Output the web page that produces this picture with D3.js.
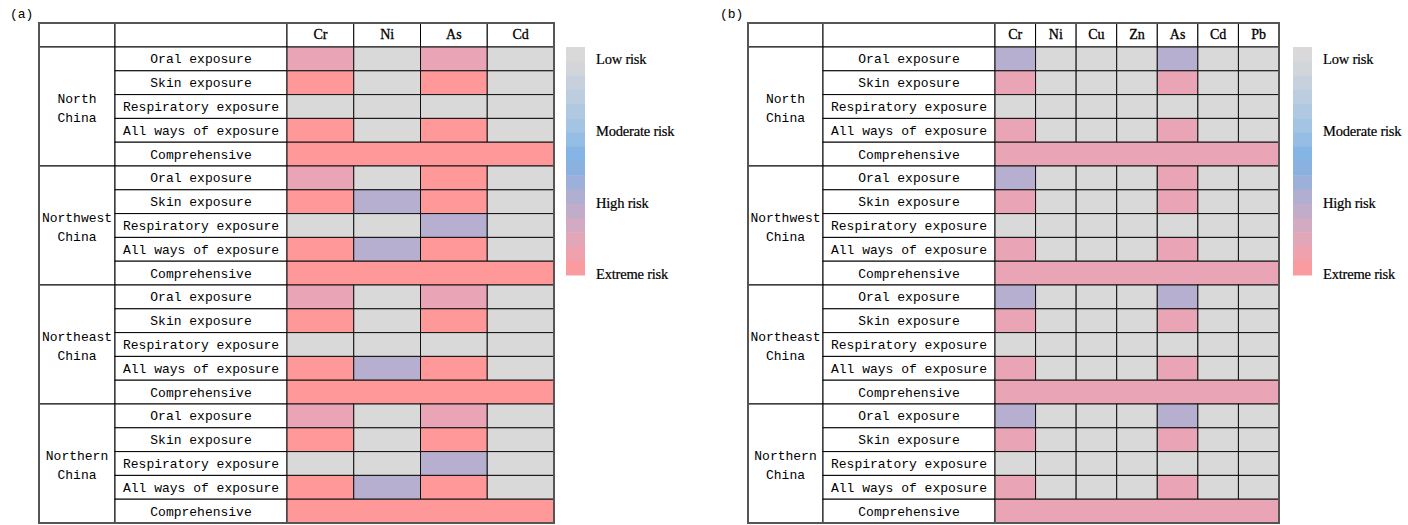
<!DOCTYPE html>
<html>
<head>
<meta charset="utf-8">
<script src="https://cdn.jsdelivr.net/npm/d3@7"></script>
<style>
  html, body { margin: 0; padding: 0; background: #fff; }
  svg { display: block; }
</style>
</head>
<body>
<svg id="chart" width="1408" height="525"></svg>
<script>
// Risk levels: 0 = low, 1 = moderate, 2 = high, 3 = extreme (2.6 sits between high and extreme)
const regions = ["North China", "Northwest China", "Northeast China", "Northern China"];
const pathways = ["Oral exposure", "Skin exposure", "Respiratory exposure", "All ways of exposure"];
const metalsA = ["Cr", "Ni", "As", "Cd"];
const metalsB = ["Cr", "Ni", "Cu", "Zn", "As", "Cd", "Pb"];

// (a) region -> pathway -> metal
const riskA = [
  [[2.6, 0, 2.6, 0], [3, 0, 3, 0], [0, 0, 0, 0], [3, 0, 3, 0]],
  [[2.6, 0, 3, 0], [3, 2, 3, 0], [0, 0, 2, 0], [3, 2, 3, 0]],
  [[2.6, 0, 2.6, 0], [3, 0, 3, 0], [0, 0, 0, 0], [3, 2, 3, 0]],
  [[2.6, 0, 2.6, 0], [3, 0, 3, 0], [0, 0, 2, 0], [3, 2, 3, 0]]
];
const comprehensiveA = [3, 3, 3, 3];

// (b) region -> pathway -> metal
const riskB = [
  [[2, 0, 0, 0, 2, 0, 0], [2.6, 0, 0, 0, 2.6, 0, 0], [0, 0, 0, 0, 0, 0, 0], [2.6, 0, 0, 0, 2.6, 0, 0]],
  [[2, 0, 0, 0, 2.6, 0, 0], [2.6, 0, 0, 0, 2.6, 0, 0], [0, 0, 0, 0, 0, 0, 0], [2.6, 0, 0, 0, 2.6, 0, 0]],
  [[2, 0, 0, 0, 2, 0, 0], [2.6, 0, 0, 0, 2.6, 0, 0], [0, 0, 0, 0, 0, 0, 0], [2.6, 0, 0, 0, 2.6, 0, 0]],
  [[2, 0, 0, 0, 2, 0, 0], [2.6, 0, 0, 0, 2.6, 0, 0], [0, 0, 0, 0, 0, 0, 0], [2.6, 0, 0, 0, 2.6, 0, 0]]
];
const comprehensiveB = [2.6, 2.6, 2.6, 2.6];

const legendLabels = ["Low risk", "Moderate risk", "High risk", "Extreme risk"];
const legendValues = [0, 1, 2, 3];

const color = d3.scaleLinear()
  .domain([0, 1, 1.4, 2, 2.6, 3])
  .range(["#d9d9d9", "#a0c2e4", "#7fb2e4", "#b7afcf", "#e9a5b5", "#ff9999"])
  .clamp(true);

const MONO = "'Liberation Mono', 'DejaVu Sans Mono', monospace";
const SERIF = "'Liberation Serif', 'DejaVu Serif', serif";

const svg = d3.select("#chart");

function drawPanel(opt) {
  const g = svg.append("g");
  const rowNames = [];
  regions.forEach((r, ri) => {
    pathways.forEach(p => rowNames.push(ri + "|" + p));
    rowNames.push(ri + "|Comprehensive");
  });

  const y = d3.scaleBand().domain(rowNames).range([opt.bodyTop, opt.bottom]);
  const x = d3.scaleBand().domain(opt.metals).range([opt.dataLeft, opt.right]);

  // panel tag
  g.append("text")
    .attr("x", opt.tagX).attr("y", 15)
    .attr("dominant-baseline", "middle")
    .style("font-family", MONO).style("font-size", "13px")
    .text(opt.tag);

  // header row
  const headerCols = [[opt.left, opt.labelLeft], [opt.labelLeft, opt.dataLeft]];
  headerCols.forEach(([a, b]) => {
    g.append("rect").attr("x", a).attr("y", opt.top).attr("width", b - a)
      .attr("height", opt.bodyTop - opt.top)
      .attr("fill", "#fff").attr("stroke", "#000").attr("stroke-width", 1);
  });
  g.selectAll(".hdr").data(opt.metals).join("rect")
    .attr("x", d => x(d)).attr("y", opt.top)
    .attr("width", x.bandwidth()).attr("height", opt.bodyTop - opt.top)
    .attr("fill", "#fff").attr("stroke", "#000").attr("stroke-width", 1);
  g.selectAll(".hdrText").data(opt.metals).join("text")
    .attr("x", d => x(d) + x.bandwidth() / 2)
    .attr("y", (opt.top + opt.bodyTop) / 2 + 1)
    .attr("text-anchor", "middle").attr("dominant-baseline", "middle")
    .style("font-family", SERIF).style("font-size", "14px")
    .style("font-weight", "normal").style("fill", "#000")
    .style("stroke", "#000").style("stroke-width", 0.3)
    .text(d => d);

  regions.forEach((region, ri) => {
    const rows = rowNames.filter(n => n.startsWith(ri + "|"));
    const yTop = y(rows[0]);
    const yBot = y(rows[rows.length - 1]) + y.bandwidth();

    // region cell
    g.append("rect").attr("x", opt.left).attr("y", yTop)
      .attr("width", opt.labelLeft - opt.left).attr("height", yBot - yTop)
      .attr("fill", "#fff").attr("stroke", "#000").attr("stroke-width", 1);
    const words = region.split(" ");
    g.selectAll(null).data(words).join("text")
      .attr("x", (opt.left + opt.labelLeft) / 2)
      .attr("y", (d, i) => (yTop + yBot) / 2 + 3 + (i - 0.5) * 19)
      .attr("text-anchor", "middle").attr("dominant-baseline", "middle")
      .style("font-family", MONO).style("font-size", "13px")
      .text(d => d);

    // pathway label cells
    rows.forEach(n => {
      const label = n.split("|")[1];
      g.append("rect").attr("x", opt.labelLeft).attr("y", y(n))
        .attr("width", opt.dataLeft - opt.labelLeft).attr("height", y.bandwidth())
        .attr("fill", "#fff").attr("stroke", "#000").attr("stroke-width", 1);
      g.append("text")
        .attr("x", (opt.labelLeft + opt.dataLeft) / 2)
        .attr("y", y(n) + y.bandwidth() / 2 + 1)
        .attr("text-anchor", "middle").attr("dominant-baseline", "middle")
        .style("font-family", MONO).style("font-size", "13px")
        .text(label);
    });

    // risk cells per pathway
    pathways.forEach((p, pi) => {
      const key = ri + "|" + p;
      g.selectAll(null).data(opt.risk[ri][pi]).join("rect")
        .attr("x", (d, mi) => x(opt.metals[mi]))
        .attr("y", y(key))
        .attr("width", x.bandwidth()).attr("height", y.bandwidth())
        .attr("fill", d => color(d))
        .attr("stroke", "#111").attr("stroke-width", 1);
    });

    // comprehensive row spans all metals
    const ck = ri + "|Comprehensive";
    g.append("rect")
      .attr("x", opt.dataLeft).attr("y", y(ck))
      .attr("width", opt.right - opt.dataLeft).attr("height", y.bandwidth())
      .attr("fill", color(opt.comprehensive[ri]))
      .attr("stroke", "#111").attr("stroke-width", 1);
  });

  // outer frame
  g.append("rect")
    .attr("x", opt.left).attr("y", opt.top)
    .attr("width", opt.right - opt.left).attr("height", opt.bottom - opt.top)
    .attr("fill", "none").attr("stroke", "#555").attr("stroke-width", 2);

  // legend
  const ly = d3.scaleLinear().domain([0, 3]).range([59, 274]);
  const barTop = 47, barBot = 275, nBands = 16;
  const bandH = (barBot - barTop) / nBands;
  const bands = d3.range(nBands).map(i => ly.invert(barTop + (i + 0.5) * bandH));
  g.selectAll(null).data(bands).join("rect")
    .attr("x", opt.legendX).attr("y", (d, i) => barTop + i * bandH)
    .attr("width", 19).attr("height", bandH + 0.5)
    .attr("fill", d => color(d));
  g.selectAll(null).data(legendLabels).join("text")
    .attr("x", opt.legendX + 30)
    .attr("y", (d, i) => ly(legendValues[i]) + 2)
    .attr("dominant-baseline", "middle")
    .style("font-family", SERIF).style("font-size", "14.5px")
    .style("letter-spacing", "-0.2px")
    .style("stroke", "#000").style("stroke-width", 0.2)
    .text(d => d);
}

drawPanel({
  tag: "(a)", tagX: 10,
  metals: metalsA, risk: riskA, comprehensive: comprehensiveA,
  left: 39, labelLeft: 115, dataLeft: 287, right: 554,
  top: 23, bodyTop: 47, bottom: 523,
  legendX: 566
});

drawPanel({
  tag: "(b)", tagX: 720,
  metals: metalsB, risk: riskB, comprehensive: comprehensiveB,
  left: 748, labelLeft: 823, dataLeft: 995, right: 1279,
  top: 23, bodyTop: 47, bottom: 523,
  legendX: 1293
});
</script>
</body>
</html>
